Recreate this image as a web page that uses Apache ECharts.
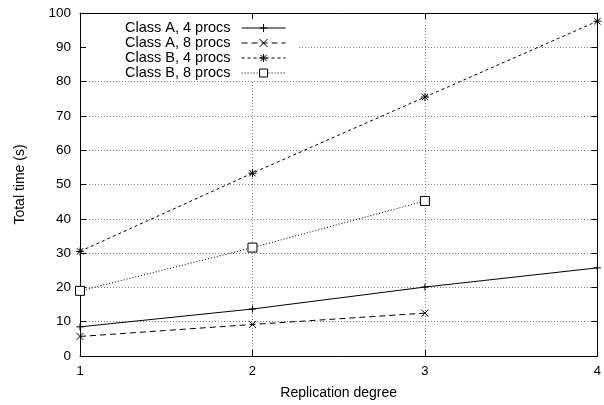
<!DOCTYPE html>
<html>
<head>
<meta charset="utf-8">
<script src="https://cdn.jsdelivr.net/npm/echarts@6/dist/echarts.min.js"></script>
<style>html,body{margin:0;padding:0;background:#fff;overflow:hidden}#c{width:604px;height:405px}</style>
</head>
<body>
<div id="c"></div>
<script>
const seriesNames = ['Class A, 4 procs', 'Class A, 8 procs', 'Class B, 4 procs', 'Class B, 8 procs'];
const xA4 = [1, 2, 3, 4];
const yA4 = [8.5, 13.7, 20.1, 25.7];
const xA8 = [1, 2, 3];
const yA8 = [5.7, 9.2, 12.5];
const xB4 = [1, 2, 3, 4];
const yB4 = [30.5, 53.3, 75.5, 97.6];
const xB8 = [1, 2, 3];
const yB8 = [19.0, 31.6, 45.2];
const xTicks = [1, 2, 3, 4];
const yTicks = [0, 10, 20, 30, 40, 50, 60, 70, 80, 90, 100];

const pair = (xs, ys) => xs.map((x, i) => [x, ys[i]]);
const plusPath = 'path://M0,5L10,5M5,0L5,10';
const crossPath = 'path://M0,0L10,10M10,0L0,10';
const starPath = 'path://M0,5L10,5M5,0L5,10M1,1L9,9M9,1L1,9';
const font = 'Liberation Sans, Arial, sans-serif';

function mk(name, data, sym, size, dash, fill) {
  return {
    name: name, type: 'line', data: data,
    symbol: sym, symbolSize: size, showSymbol: true,
    lineStyle: { color: '#000', width: 1, type: dash },
    itemStyle: { color: fill, borderColor: '#000', borderWidth: 1 },
    emphasis: { disabled: true },
    animation: false, z: 3
  };
}

const chart = echarts.init(document.getElementById('c'), null, { renderer: 'canvas', width: 604, height: 405 });
const gridLine = { show: true, lineStyle: { color: '#888', type: [1, 2], width: 1 } };
chart.setOption({
  animation: false,
  backgroundColor: '#fff',
  grid: { left: 80, width: 522, top: 13, height: 343 },
  legend: {
    orient: 'vertical', left: 125, top: 20.5, align: 'right', padding: 0,
    itemWidth: 44, itemHeight: 10, itemGap: 0,
    lineStyle: { width: 1 },
    itemStyle: { borderWidth: 1 },
    textStyle: { fontFamily: font, fontSize: 14.5, lineHeight: 14.7, color: '#000', padding: [0, 6, 0, 0] },
    data: seriesNames, selectedMode: false, z: 5
  },
  graphic: [{ type: 'rect', shape: { x: 86, y: 19, width: 211, height: 61 }, style: { fill: '#fff' }, z: 1, silent: true }],
  xAxis: [{
    type: 'value', min: 1, max: 4, interval: 1,
    name: 'Replication degree', nameLocation: 'middle', nameGap: 30,
    nameTextStyle: { fontFamily: font, fontSize: 14, color: '#000' },
    axisLine: { show: true, lineStyle: { color: '#000', width: 1 } },
    axisTick: { show: true, inside: true, length: 6, lineStyle: { color: '#000' } },
    axisLabel: { fontFamily: font, fontSize: 13, color: '#000', margin: 9 },
    splitLine: gridLine
  }, {
    type: 'value', min: 1, max: 4, interval: 1, position: 'top',
    axisLine: { show: true, onZero: false, lineStyle: { color: '#000', width: 1 } },
    axisTick: { show: true, inside: true, length: 6, lineStyle: { color: '#000' } },
    axisLabel: { show: false }, splitLine: { show: false }
  }],
  yAxis: [{
    type: 'value', min: 0, max: 100, interval: 10,
    name: 'Total time (s)', nameLocation: 'middle', nameGap: 53, nameRotate: 90,
    nameTextStyle: { fontFamily: font, fontSize: 14, color: '#000' },
    axisLine: { show: true, lineStyle: { color: '#000', width: 1 } },
    axisTick: { show: true, inside: true, length: 6, lineStyle: { color: '#000' } },
    axisLabel: { fontFamily: font, fontSize: 13.5, color: '#000', margin: 9 },
    splitLine: gridLine
  }, {
    type: 'value', min: 0, max: 100, interval: 10, position: 'right',
    axisLine: { show: true, onZero: false, lineStyle: { color: '#000', width: 1 } },
    axisTick: { show: true, inside: true, length: 6, lineStyle: { color: '#000' } },
    axisLabel: { show: false }, splitLine: { show: false }
  }],
  series: [
    mk(seriesNames[0], pair(xA4, yA4), plusPath, 7, 'solid', 'transparent'),
    mk(seriesNames[1], pair(xA8, yA8), crossPath, 7, [6, 4], 'transparent'),
    mk(seriesNames[2], pair(xB4, yB4), starPath, 8, [3, 3], 'transparent'),
    mk(seriesNames[3], pair(xB8, yB8), 'rect', 9, [1, 2], '#fff')
  ]
});
</script>
</body>
</html>
